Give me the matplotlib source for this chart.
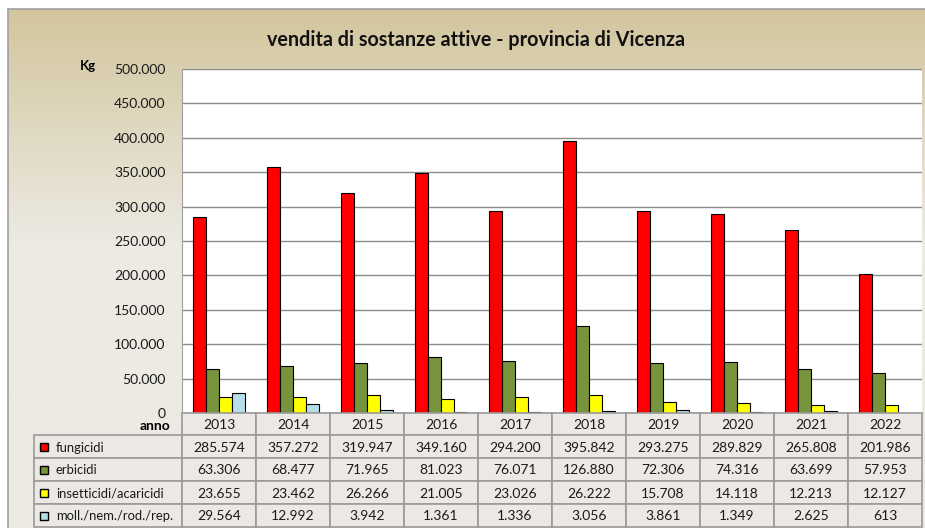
import numpy as np
import matplotlib.pyplot as plt
from matplotlib.patches import Rectangle

anni = ['2013', '2014', '2015', '2016', '2017', '2018', '2019', '2020', '2021', '2022']
fungicidi = [285574, 357272, 319947, 349160, 294200, 395842, 293275, 289829, 265808, 201986]
erbicidi = [63306, 68477, 71965, 81023, 76071, 126880, 72306, 74316, 63699, 57953]
insetticidi = [23655, 23462, 26266, 21005, 23026, 26222, 15708, 14118, 12213, 12127]
molluschicidi = [29564, 12992, 3942, 1361, 1336, 3056, 3861, 1349, 2625, 613]

nomi = ['fungicidi', 'erbicidi', 'insetticidi/acaricidi', 'moll./nem./rod./rep.']
serie = [fungicidi, erbicidi, insetticidi, molluschicidi]
colori = ['#FF0000', '#77933C', '#FFFF00', '#B7DEE8']

plt.rcParams['font.family'] = ['Lato', 'DejaVu Sans']

W, H = 925, 528
fig = plt.figure(figsize=(W / 100, H / 100), dpi=100)
fig.patch.set_facecolor('white')

def fx(px):
    return px / W

def fy(py):
    return 1 - py / H

# sfondo sfumato della cornice
bg = fig.add_axes([fx(8), 0, 1 - fx(8), fy(9)], zorder=0)
grad = np.linspace(0, 1, 256).reshape(-1, 1)
top = np.array([211, 198, 158]) / 255
bot = np.array([236, 234, 227]) / 255
t = np.clip(grad * 2.2, 0, 1)
img = top + (bot - top) * t[:, :, None]
bg.imshow(img, aspect='auto', extent=[0, 1, 0, 1])
bg.set_xticks([])
bg.set_yticks([])
for s in ['right', 'bottom']:
    bg.spines[s].set_visible(False)
for s in ['left', 'top']:
    bg.spines[s].set_color('#A0A0A0')
    bg.spines[s].set_linewidth(1.2)

# area del grafico
ax = fig.add_axes([fx(182), fy(413), fx(922) - fx(182), fy(69) - fy(413)], zorder=2)
ax.set_facecolor('white')
x = np.arange(len(anni))
bw = 0.176
for i, (vals, col) in enumerate(zip(serie, colori)):
    ax.bar(x + (i - 1.5) * bw, vals, bw, color=col, edgecolor='black', linewidth=0.8, zorder=3)
ax.set_xlim(-0.5, len(anni) - 0.5)
ax.set_ylim(0, 500000)
ax.set_yticks(np.arange(0, 500001, 50000))
ax.set_yticklabels([f"{v:,}".replace(',', '.') if v else '0' for v in np.arange(0, 500001, 50000)],
                   fontsize=10, color='#1a1a1a')
ax.tick_params(axis='y', length=0, pad=12)
ax.set_xticks([])
ax.grid(axis='y', color='#8C8C8C', linewidth=1.0, zorder=0)
for s in ['top', 'right']:
    ax.spines[s].set_visible(False)
ax.spines['left'].set_color('#A0A0A0')
ax.spines['bottom'].set_color('#A0A0A0')

fig.text(fx(476), fy(40), 'vendita di sostanze attive - provincia di Vicenza',
         ha='center', va='center', fontsize=14.2, fontweight='bold', color='#111111')
fig.text(fx(88), fy(66), 'Kg', ha='center', va='center', fontsize=9.5, fontweight='bold')

# tabella dati
tb = fig.add_axes([0, 0, 1, 1], zorder=3)
tb.set_xlim(0, W)
tb.set_ylim(H, 0)
tb.axis('off')
cella = '#ECE9E4'
linea = '#9A9A9A'
col_w = 74
x0 = 182
righe_y = [413, 435, 458, 481, 504, 527]

# intestazione anni
for j, a in enumerate(anni):
    tb.add_patch(Rectangle((x0 + j * col_w, righe_y[0]), col_w, righe_y[1] - righe_y[0],
                           facecolor=cella, edgecolor=linea, linewidth=1.2))
    tb.text(x0 + j * col_w + col_w / 2, (righe_y[0] + righe_y[1]) / 2 + 1, a,
            ha='center', va='center', fontsize=10, color='#1a1a1a')
tb.text(170, 426, 'anno', ha='right', va='center', fontsize=10, fontweight='bold')

for r, (nome, vals, col) in enumerate(zip(nomi, serie, colori)):
    y1, y2 = righe_y[r + 1], righe_y[r + 2]
    ym = (y1 + y2) / 2 + 1
    tb.add_patch(Rectangle((34, y1), x0 - 34, y2 - y1, facecolor=cella, edgecolor=linea, linewidth=1.2))
    tb.add_patch(Rectangle((40, ym - 4.5), 8, 8, facecolor=col, edgecolor='black', linewidth=1.0))
    tb.text(56, ym, nome, ha='left', va='center', fontsize=9.4, color='#1a1a1a')
    for j, v in enumerate(vals):
        tb.add_patch(Rectangle((x0 + j * col_w, y1), col_w, y2 - y1,
                               facecolor=cella, edgecolor=linea, linewidth=1.2))
        tb.text(x0 + j * col_w + col_w / 2, ym, f"{v:,}".replace(',', '.'),
                ha='center', va='center', fontsize=10, color='#1a1a1a')

fig.savefig('out.png', dpi=100)
